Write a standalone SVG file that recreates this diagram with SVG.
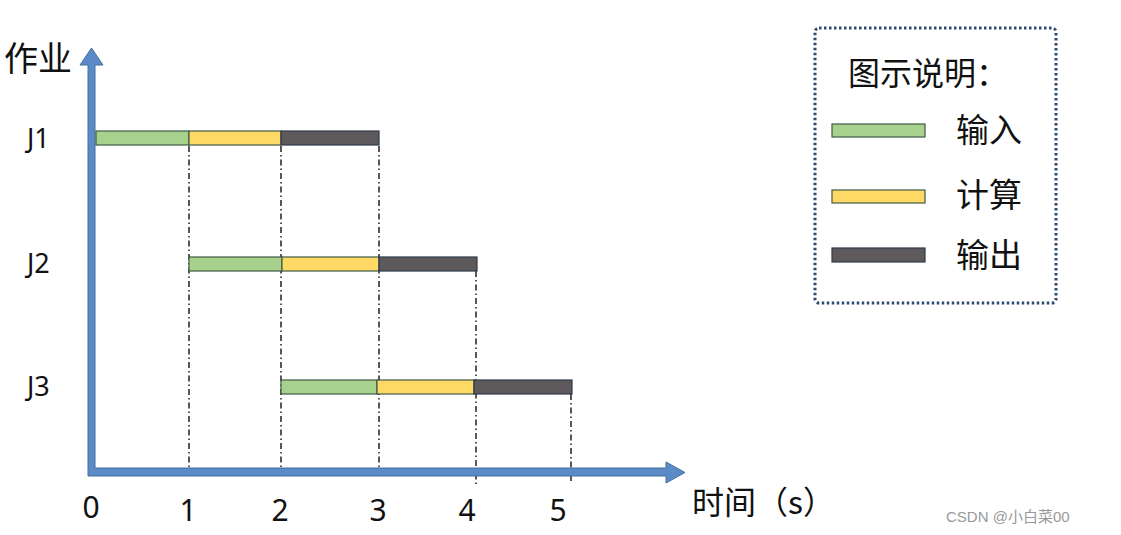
<svg xmlns="http://www.w3.org/2000/svg" width="1121" height="535" viewBox="0 0 1121 535">
<style>
.t{font-family:"Noto Sans","Noto Sans CJK SC",sans-serif;fill:#111}
.cj{font-family:"Noto Sans CJK SC",sans-serif;fill:#111}
.g{fill:#A9D18E;stroke:#3E5A45;stroke-width:1.2}
.y{fill:#FFD966;stroke:#3E5A45;stroke-width:1.2}
.d{fill:#5E5A5C;stroke:#2E3A4A;stroke-width:1.2}
.dash{stroke:#111;stroke-width:1.4;stroke-dasharray:6 3 1.5 3;fill:none}
.ax{fill:#5B8AC6;stroke:#41719C;stroke-width:1}
</style>
<rect width="1121" height="535" fill="#fff"/>
<g id="connectors">
<path class="dash" d="M189 146V476M281 146V476M379 146V476M476 271V484M571 394V484"/>
</g>
<g id="axes">
<path class="ax" d="M88 475V65H80L91.5 48L103 65H95V468H666V462L685 472.5L666 483V476H88Z"/>
</g>
<g id="J1">
<rect class="g" x="96" y="131" width="93" height="14"/>
<rect class="y" x="189" y="131" width="92" height="14"/>
<rect class="d" x="281" y="131" width="98" height="14"/>
</g>
<g id="J2">
<rect class="g" x="189" y="257" width="93" height="14"/>
<rect class="y" x="282" y="257" width="97" height="14"/>
<rect class="d" x="379" y="257" width="98" height="14"/>
</g>
<g id="J3">
<rect class="g" x="281" y="380" width="96" height="14"/>
<rect class="y" x="377" y="380" width="97" height="14"/>
<rect class="d" x="474" y="380" width="98" height="14"/>
</g>
<g id="labels">
<text class="cj" x="4" y="71" font-size="34">作业</text>
<text class="t" x="27" y="148" font-size="27">J1</text>
<text class="t" x="27" y="273" font-size="27">J2</text>
<text class="t" x="27" y="396" font-size="27">J3</text>
<g class="t" font-size="30" text-anchor="middle">
<text x="91" y="518">0</text>
<text x="188" y="521">1</text>
<text x="280" y="521">2</text>
<text x="378" y="521">3</text>
<text x="467" y="521">4</text>
<text x="558" y="521">5</text>
</g>
<text class="cj" x="692" y="514" font-size="32">时间（s）</text>
</g>
<g id="legend">
<rect x="815" y="28" width="241" height="275" rx="4" fill="none" stroke="#2F4A70" stroke-width="3" stroke-dasharray="2.5 2.5"/>
<text class="cj" x="848" y="85" font-size="32">图示说明：</text>
<rect class="g" x="832" y="124" width="93" height="13"/>
<rect class="y" x="832" y="190" width="93" height="13"/>
<rect class="d" x="832" y="248" width="93" height="14"/>
<text class="cj" x="956" y="142" font-size="33">输入</text>
<text class="cj" x="956" y="207" font-size="33">计算</text>
<text class="cj" x="956" y="267" font-size="33">输出</text>
</g>
<text x="946" y="522" font-size="15" fill="#999" font-family="Liberation Sans,Noto Sans CJK SC,sans-serif">CSDN @小白菜00</text>
</svg>
